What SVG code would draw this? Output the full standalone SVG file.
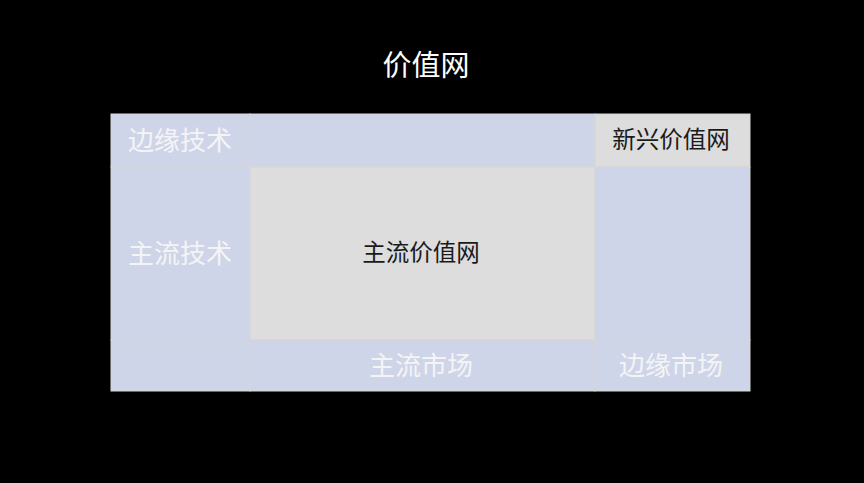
<svg xmlns="http://www.w3.org/2000/svg" width="864" height="483" viewBox="0 0 864 483">
<style>
.c{fill:#CFD5E8;stroke:#D6D6D6;stroke-width:1}
.g{fill:#DDDDDD;stroke:#D6D6D6;stroke-width:1}
text{font-family:"Liberation Serif","Noto Sans CJK SC",serif;text-anchor:middle;dominant-baseline:central}
.w{fill:#F4F4F6;font-size:26px}
.k{fill:#1A1A1A;font-size:23.5px}
</style>
<rect width="864" height="483" fill="#000"/>
<g id="title"><text x="426" y="66" style="fill:#FFFFFF;font-size:29px">价值网</text></g>
<g id="cell-edge-tech"><rect class="c" x="111" y="114" width="139" height="53"/><text class="w" x="180" y="141">边缘技术</text></g>
<g id="cell-top-mid"><rect class="c" x="250" y="114" width="345" height="53"/></g>
<g id="cell-new-value"><rect class="g" x="595" y="114" width="155" height="53"/><text class="k" x="671" y="140">新兴价值网</text></g>
<g id="cell-main-tech"><rect class="c" x="111" y="167" width="139" height="173"/><text class="w" x="180" y="254">主流技术</text></g>
<g id="cell-main-value"><rect class="g" x="250" y="167" width="345" height="173"/><text class="k" x="421" y="253">主流价值网</text></g>
<g id="cell-right-mid"><rect class="c" x="595" y="167" width="155" height="173"/></g>
<g id="cell-bottom-left"><rect class="c" x="111" y="340" width="139" height="51"/></g>
<g id="cell-main-market"><rect class="c" x="250" y="340" width="345" height="51"/><text class="w" x="421" y="366">主流市场</text></g>
<g id="cell-edge-market"><rect class="c" x="595" y="340" width="155" height="51"/><text class="w" x="671" y="366">边缘市场</text></g>
<g id="connectors"></g>
</svg>
